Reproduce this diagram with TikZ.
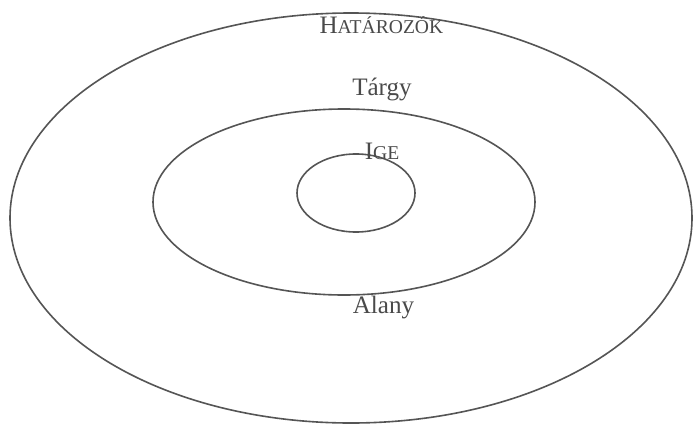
\documentclass[tikz,border=0pt]{standalone}
\usepackage{fontspec}
\setmainfont{Liberation Serif}
\usetikzlibrary{shapes.geometric}
\definecolor{ringline}{HTML}{555555}
\definecolor{labeltext}{HTML}{4A4A4A}
\tikzset{
  ring/.style={ellipse, draw=ringline, line width=1.6pt, inner sep=0pt},
  role/.style={font=\fontsize{25}{26}\selectfont, text=labeltext, anchor=base, inner sep=0pt},
}
% hand-made small caps: first letter full size, the rest smaller
\newcommand\fakesc[2]{#1{\fontsize{19.5}{20}\selectfont #2}}

\begin{document}
\begin{tikzpicture}

\useasboundingbox (0,0) rectangle (24.255,-14.98);

% Rings, from the outside in
\node[ring, minimum width=23.87cm, minimum height=14.35cm] (outer)  at (12.285,-7.63)  {};
\node[ring, minimum width=13.37cm, minimum height=6.51cm]  (middle) at (12.04,-7.07)   {};
\node[ring, minimum width=4.13cm,  minimum height=2.73cm]  (inner)  at (12.46,-6.755)  {};

% Labels
\node[role] (hatarozok) at (13.35,-1.155) {\fakesc{H}{ATÁROZÓK}};
\node[role] (targy)     at (13.37,-3.325) {Tárgy};
\node[role] (ige)       at (13.37,-5.565) {\fakesc{I}{GE}};
\node[role] (alany)     at (13.42,-10.955) {Alany};

\end{tikzpicture}
\end{document}
